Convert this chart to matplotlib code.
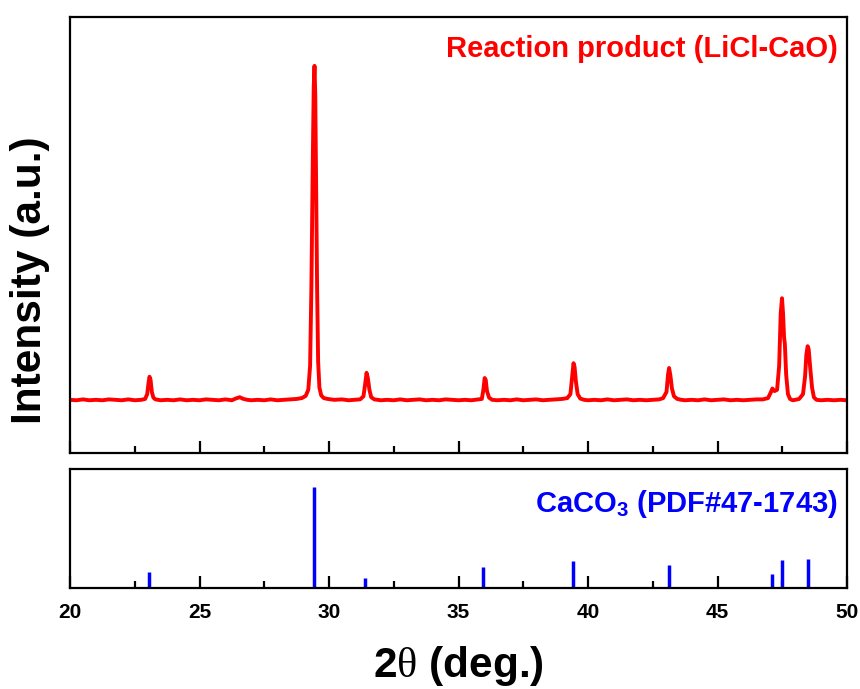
import matplotlib
matplotlib.use("Agg")
import matplotlib.pyplot as plt
from matplotlib.ticker import MultipleLocator

plt.rcParams['font.family'] = ['Liberation Sans', 'DejaVu Sans']
plt.rcParams['font.weight'] = 'bold'
plt.rcParams['mathtext.fontset'] = 'custom'
plt.rcParams['mathtext.rm'] = 'Liberation Serif:normal'
plt.rcParams['mathtext.bf'] = 'Liberation Sans:bold'
plt.rcParams['mathtext.it'] = 'Liberation Sans:bold'
plt.rcParams['mathtext.default'] = 'bf'

two_theta = [
    20.0, 20.25, 20.5, 20.75, 21.0, 21.25, 21.5, 21.75, 22.0, 22.25, 22.5, 22.75,
    22.9, 22.98, 23.03, 23.07, 23.11, 23.16, 23.22, 23.3,
    23.5, 23.75, 24.0, 24.25, 24.5, 24.75, 25.0, 25.25, 25.5, 25.75, 26.0, 26.25,
    26.4, 26.55, 26.7, 26.85, 27.0, 27.25, 27.5, 27.75, 28.0, 28.25, 28.5, 28.75,
    28.95, 29.1, 29.2, 29.27, 29.32, 29.37, 29.41, 29.44, 29.47, 29.5, 29.54, 29.58,
    29.63, 29.7, 29.8, 29.95, 30.2, 30.5, 30.75, 31.0, 31.2,
    31.33, 31.4, 31.45, 31.5, 31.56, 31.63, 31.75,
    32.0, 32.25, 32.5, 32.75, 33.0, 33.25, 33.5, 33.75, 34.0, 34.25, 34.5, 34.75,
    35.0, 35.25, 35.5, 35.75, 35.9, 35.96, 36.01, 36.05, 36.1, 36.18, 36.3,
    36.5, 36.75, 37.0, 37.25, 37.5, 37.75, 38.0, 38.25, 38.5, 38.75, 39.0, 39.2,
    39.32, 39.39, 39.44, 39.48, 39.53, 39.6, 39.7, 39.85,
    40.0, 40.25, 40.5, 40.75, 41.0, 41.25, 41.5, 41.75, 42.0, 42.25, 42.5, 42.75,
    42.9, 43.03, 43.09, 43.13, 43.18, 43.24, 43.32, 43.45, 43.6,
    43.75, 44.0, 44.25, 44.5, 44.75, 45.0, 45.25, 45.5, 45.75, 46.0, 46.25, 46.5,
    46.75, 46.95, 47.05, 47.12, 47.2, 47.3, 47.38, 47.44, 47.49, 47.53, 47.57,
    47.6, 47.65, 47.72, 47.8, 47.9, 48.0, 48.15, 48.3, 48.38, 48.43, 48.48,
    48.52, 48.58, 48.65, 48.72, 48.82, 49.0, 49.25, 49.5, 49.75, 50.0,
]
intensity = [
    122, 121, 123, 121, 122, 121, 123, 122, 121, 123, 121, 122,
    124, 135, 160, 175, 168, 140, 127, 123,
    121, 122, 121, 123, 121, 122, 121, 123, 122, 121, 123, 121,
    125, 128, 124, 122, 121, 122, 121, 123, 121, 122, 123, 124,
    126, 131, 145, 200, 380, 650, 840, 888, 820, 620, 380, 210,
    150, 132, 126, 124, 122, 123, 121, 122, 123,
    130, 160, 184, 172, 145, 128, 123,
    121, 122, 121, 123, 121, 122, 123, 121, 122, 121, 123, 122,
    121, 122, 121, 123, 124, 145, 172, 168, 142, 127, 122,
    121, 122, 121, 123, 121, 122, 123, 121, 122, 123, 124, 126,
    135, 175, 206, 198, 165, 135, 125, 122,
    121, 122, 121, 123, 121, 122, 123, 121, 122, 121, 122, 123,
    126, 140, 180, 195, 178, 148, 130, 124, 122,
    121, 122, 121, 123, 121, 122, 123, 121, 122, 121, 122, 123,
    123, 126, 138, 148, 142, 145, 200, 320, 355, 320, 265,
    250, 180, 135, 124, 121, 122, 124, 135, 175, 225, 245,
    238, 195, 150, 128, 122, 121, 122, 121, 122, 121,
]

# CaCO3 reference pattern (PDF#47-1743)
ref_pos = [23.06, 29.42, 31.40, 35.96, 39.43, 43.14, 47.09, 47.49, 48.48]
ref_int = [16, 100, 10, 21, 27, 23, 14, 28, 29]

fig = plt.figure(figsize=(8.6, 6.89), dpi=100)
ax1 = fig.add_axes([0.0814, 0.3425, 0.9035, 0.6328])
ax2 = fig.add_axes([0.0814, 0.1466, 0.9035, 0.1727])

ax1.plot(two_theta, intensity, color='#ff0000', lw=2.8)
ax1.set_xlim(20, 50)
ax1.set_ylim(0, 1000)
ax1.set_yticks([])
ax1.xaxis.set_major_locator(MultipleLocator(5))
ax1.xaxis.set_minor_locator(MultipleLocator(2.5))
ax1.tick_params(axis='x', which='major', direction='in', length=9, width=1.6, labelbottom=False)
ax1.tick_params(axis='x', which='minor', direction='in', length=5, width=1.6)
ax1.text(0.988, 0.908, 'Reaction product (LiCl-CaO)', color='#ff0000', fontsize=21,
         fontweight='bold', ha='right', va='baseline', transform=ax1.transAxes)
ax1.set_ylabel('Intensity (a.u.)', fontsize=30.5, fontweight='bold')
ax1.yaxis.set_label_coords(-0.026, 0.397)

ax2.vlines(ref_pos, 0, ref_int, color='#0000ff', lw=2.5)
ax2.set_xlim(20, 50)
ax2.set_ylim(0, 118)
ax2.set_yticks([])
ax2.xaxis.set_major_locator(MultipleLocator(5))
ax2.xaxis.set_minor_locator(MultipleLocator(2.5))
ax2.tick_params(axis='x', which='major', direction='in', length=9, width=1.6,
                labelsize=15, pad=11)
ax2.tick_params(axis='x', which='minor', direction='in', length=5, width=1.6)
for lab in ax2.get_xticklabels():
    lab.set_fontweight('bold')
ax2.text(0.988, 0.641, 'CaCO$_\\mathbf{3}$ (PDF#47-1743)', color='#0000ff', fontsize=21,
         fontweight='bold', ha='right', va='baseline', transform=ax2.transAxes)
ax2.set_xlabel('2$\\mathrm{θ}$ (deg.)', fontsize=30.5, fontweight='bold', labelpad=16)

for ax in (ax1, ax2):
    for s in ax.spines.values():
        s.set_linewidth(1.6)

fig.savefig('out.png', dpi=100)
